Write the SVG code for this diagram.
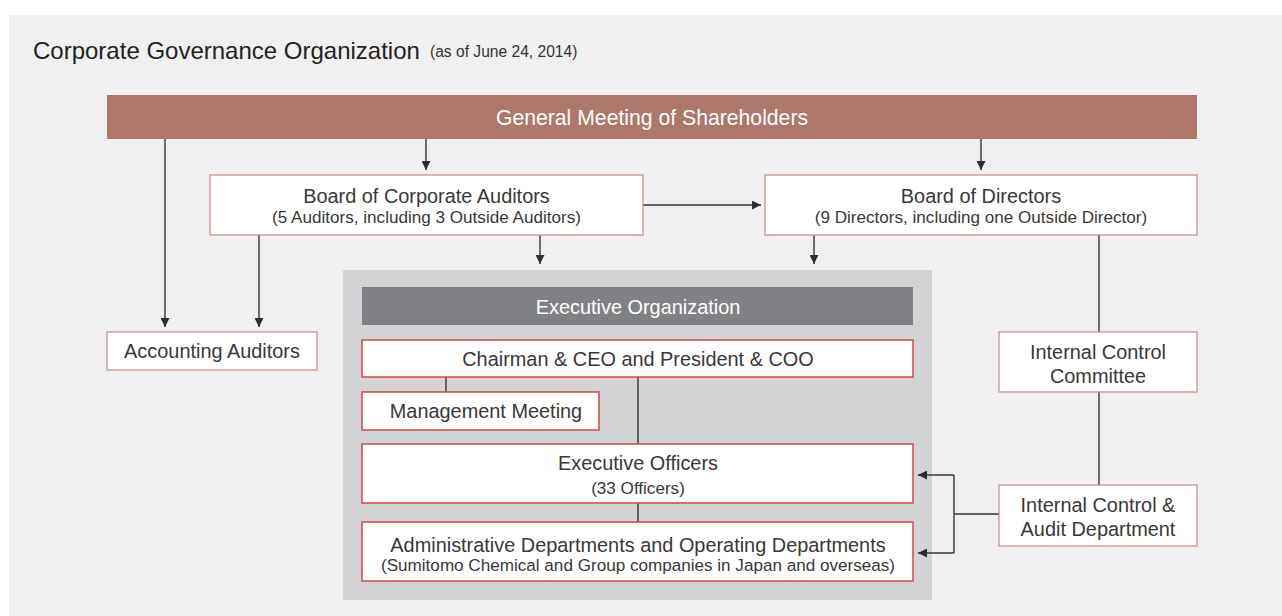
<svg xmlns="http://www.w3.org/2000/svg" width="1282" height="616" viewBox="0 0 1282 616">
<style>
  text { font-family: "Liberation Sans", Arial, sans-serif; fill: #383838; }
  .t { font-size: 19.9px; text-anchor: middle; }
  .s { font-size: 17.1px; text-anchor: middle; }
  .w { fill: #ffffff; }
  .ob { fill: #ffffff; stroke: #c9958b; stroke-width: 1.3; }
  .ib { fill: #ffffff; stroke: #d6434c; stroke-width: 1.5; }
  .ln { fill: none; stroke: #363636; stroke-width: 1.4; }
  .ar { marker-end: url(#ah); }
</style>
<defs>
  <marker id="ah" markerWidth="10" markerHeight="9" refX="9" refY="4.5" orient="auto" markerUnits="userSpaceOnUse">
    <path d="M0,0 L9,4.5 L0,9 z" fill="#2e2e2e"/>
  </marker>
</defs>
<rect x="0" y="0" width="1282" height="616" fill="#ffffff"/>
<rect x="9" y="15" width="1273" height="601" fill="#f0f0f0"/>
<text x="33" y="59" style="font-size:24px;fill:#222">Corporate Governance Organization</text>
<text x="430" y="57" style="font-size:15.6px;fill:#333">(as of June 24, 2014)</text>

<g id="exec-container">
  <rect x="343" y="270" width="589" height="330" fill="#d2d3d5"/>
</g>

<g id="connectors">
  <path class="ln ar" d="M426,139 V170"/>
  <path class="ln ar" d="M981,139 V170"/>
  <path class="ln ar" d="M165,139 V327"/>
  <path class="ln ar" d="M259,235 V327"/>
  <path class="ln ar" d="M643,205 H761"/>
  <path class="ln ar" d="M540,235 V264"/>
  <path class="ln ar" d="M814,235 V264"/>
  <path class="ln" d="M1099,235 V332"/>
  <path class="ln" d="M1099,392 V485"/>
  <path class="ln" d="M446,377 V392"/>
  <path class="ln" d="M638,377 V444"/>
  <path class="ln" d="M638,503 V522"/>
  <path class="ln" d="M999,514 H954 M954,475 V553"/>
  <path class="ln ar" d="M954,475 H918"/>
  <path class="ln ar" d="M954,553 H918"/>
</g>

<g id="general-meeting">
  <rect x="107" y="95" width="1090" height="44" fill="#ad7769"/>
  <text class="t w" x="652" y="125" style="font-size:21.2px">General Meeting of Shareholders</text>
</g>

<g id="board-auditors">
  <rect class="ob" x="210" y="175" width="433" height="60"/>
  <text class="t" x="426.5" y="202.5">Board of Corporate Auditors</text>
  <text class="s" x="426.5" y="223">(5 Auditors, including 3 Outside Auditors)</text>
</g>

<g id="board-directors">
  <rect class="ob" x="765" y="175" width="432" height="60"/>
  <text class="t" x="981" y="202.5">Board of Directors</text>
  <text class="s" x="981" y="223">(9 Directors, including one Outside Director)</text>
</g>

<g id="accounting-auditors">
  <rect class="ob" x="107" y="332" width="210" height="38"/>
  <text class="t" x="212" y="358">Accounting Auditors</text>
</g>

<g id="exec-org-header">
  <rect x="362" y="287" width="551" height="38" fill="#808184"/>
  <text class="t w" x="638" y="314">Executive Organization</text>
</g>

<g id="chairman">
  <rect class="ib" x="362" y="340" width="551" height="37"/>
  <text class="t" x="638" y="366">Chairman &amp; CEO and President &amp; COO</text>
</g>

<g id="management-meeting">
  <rect class="ib" x="362" y="392" width="237" height="38"/>
  <text class="t" x="486" y="418">Management Meeting</text>
</g>

<g id="executive-officers">
  <rect class="ib" x="362" y="444" width="551" height="59"/>
  <text class="t" x="638" y="470">Executive Officers</text>
  <text class="s" x="638" y="494">(33 Officers)</text>
</g>

<g id="departments">
  <rect class="ib" x="362" y="522" width="551" height="59"/>
  <text class="t" x="638" y="552">Administrative Departments and Operating Departments</text>
  <text class="s" x="638" y="570.5">(Sumitomo Chemical and Group companies in Japan and overseas)</text>
</g>

<g id="internal-control-committee">
  <rect class="ob" x="999" y="332" width="198" height="60"/>
  <text class="t" x="1098" y="359">Internal Control</text>
  <text class="t" x="1098" y="383">Committee</text>
</g>

<g id="internal-audit">
  <rect class="ob" x="999" y="485" width="198" height="61"/>
  <text class="t" x="1098" y="512">Internal Control &amp;</text>
  <text class="t" x="1098" y="536">Audit Department</text>
</g>
</svg>
